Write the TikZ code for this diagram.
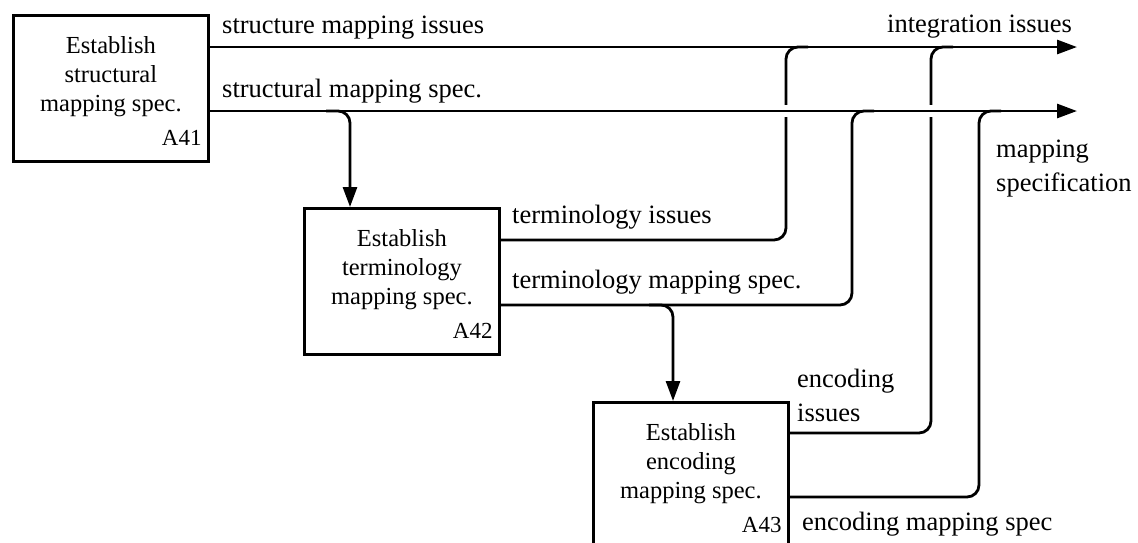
\documentclass[tikz,border=0pt]{standalone}
\usepackage{fontspec}
\setmainfont{Liberation Serif}
\usetikzlibrary{arrows.meta,calc}
\begin{document}
\begin{tikzpicture}[x=1pt,y=-1pt,
  procbox/.style={draw, line width=2.8pt, minimum width=195pt, minimum height=146pt, inner sep=0pt, anchor=north west},
  boxtitle/.style={font=\fontsize{24.5}{29}\selectfont, align=center, inner sep=0pt},
  boxnum/.style={font=\fontsize{23}{27}\selectfont, inner sep=0pt, anchor=base east},
  flowlabel/.style={font=\fontsize{26.5}{34}\selectfont, inner sep=0pt, anchor=base west, align=left},
  flow/.style={line width=2.8pt, rounded corners=12pt},
  tip/.style={-{Triangle[length=20pt,width=14pt]}}
]
\useasboundingbox (0,0) rectangle (1138,542);
\clip (0,0) rectangle (1138,542);

% activity boxes
\node[procbox] (A41) at (12,14) {};
\node[procbox] (A42) at (303,207) {};
\node[procbox] (A43) at (592,401) {};

\node[boxtitle] (t41) at ([yshift=11.5pt]A41.center) {Establish\\structural\\mapping spec.};
\node[boxtitle] (t42) at ([yshift=11.5pt]A42.center) {Establish\\terminology\\mapping spec.};
\node[boxtitle] (t43) at ([yshift=11.5pt]A43.center) {Establish\\encoding\\mapping spec.};

\node[boxnum] (n41) at ($(A41.south east)+(-8,-17)$) {A41};
\node[boxnum] (n42) at ($(A42.south east)+(-8,-17)$) {A42};
\node[boxnum] (n43) at ($(A43.south east)+(-8,-17)$) {A43};

% arrow labels (two-line labels sit on their last baseline)
\node[flowlabel] (l1) at (222,33) {structure mapping issues};
\node[flowlabel] (l2) at (222,97) {structural mapping spec.};
\node[flowlabel] (l3) at (887,32) {integration issues};
\node[flowlabel] (l4) at (996,191) {mapping\\specification};
\node[flowlabel] (l5) at (512,223) {terminology issues};
\node[flowlabel] (l6) at (512,288) {terminology mapping spec.};
\node[flowlabel] (l7) at (797,421) {encoding\\issues};
\node[flowlabel] (l8) at (802,530) {encoding mapping spec};

% outputs and junction points
\coordinate (out1) at (1077,47);
\coordinate (out2) at (1077,111);
\coordinate (m1) at (786,47);
\coordinate (m2) at (852,111);
\coordinate (m3) at (931,47);
\coordinate (m4) at (979,111);
\coordinate (b1) at (350,111);
\coordinate (b2) at (673,305);

% integration issues
\draw[flow,tip] (A41.east |- out1) -- (out1);

% feeds into the two output lines
\draw[flow] ($(A42.north east)+(0,33)$) -| (m1) -- ++(22,0);
\draw[flow] ($(A42.north east)+(0,98)$) -| (m2) -- ++(22,0);
\draw[flow] ($(A43.north east)+(0,32)$) -| (m3) -- ++(22,0);
\draw[flow] ($(A43.north east)+(0,96)$) -| (m4) -- ++(22,0);

% branches down to the next activity
\draw[flow,tip] ($(b1)+(-24,0)$) -| (A42.north -| b1);
\draw[flow,tip] ($(b2)+(-24,0)$) -| (A43.north -| b2);

% crossing gaps, then mapping specification line
\fill[white] ($(m1 |- out2)+(-4,-6)$) rectangle ($(m1 |- out2)+(4,6)$);
\fill[white] ($(m3 |- out2)+(-4,-6)$) rectangle ($(m3 |- out2)+(4,6)$);
\draw[flow,tip] (A41.east |- out2) -- (out2);
\end{tikzpicture}
\end{document}
